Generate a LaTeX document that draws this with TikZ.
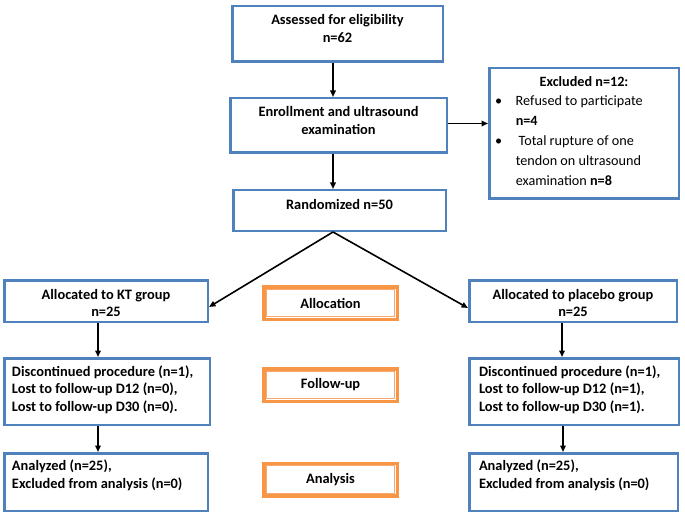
\documentclass[tikz,border=0pt]{standalone}
\usepackage{fontspec}
\setmainfont{Carlito}
\usetikzlibrary{arrows.meta}
\definecolor{boxblue}{HTML}{4F81BD}
\definecolor{boxorange}{HTML}{F79646}
\definecolor{lightorange}{HTML}{F9A96E}
\newcommand\bxt[4]{\parbox[c][#2pt][t]{#1pt}{\vspace*{#3pt}#4}}
\tikzset{
  bluebox/.style={draw=boxblue, line width=2.5pt, inner sep=0pt, fill=white,
    font=\fontsize{14.4}{17.5}\selectfont\bfseries},
  orangebox/.style={draw=boxorange, line width=3.5pt, inner sep=0pt,
    minimum width=133.5pt, minimum height=32.5pt,
    font=\fontsize{14.4}{17.5}\selectfont\bfseries},
  arr/.style={line width=1.6pt, -{Triangle[length=6.5pt,width=5.5pt]}}
}
\begin{document}
\begin{tikzpicture}[x=1pt,y=-1pt]
\useasboundingbox (0,0) rectangle (685,513);
% top column
\node[bluebox] (assess) at (337.5,34) {\bxt{210.5}{55.5}{6.5}{\centering\strut Assessed for eligibility\\ n=62}};
\node[bluebox] (enroll) at (338.5,125.5) {\bxt{216.5}{54.5}{6.5}{\centering\strut Enrollment and ultrasound\\ examination}};
\node[bluebox] (rand) at (339.5,210.5) {\bxt{212.5}{40.5}{7.5}{\centering\strut Randomized n=50}};
\node[bluebox] (excl) at (584,133.5) {\bxt{189.5}{130.5}{3.9}{\fontsize{14.2}{19.8}\selectfont\mdseries\centering\strut\textbf{Excluded n=12:}\par
  \raggedright\leftskip=26.5pt\relax
  \leavevmode\llap{\textbullet\hspace{13.5pt}}Refused to participate\\ \textbf{n=4}\par
  \leavevmode\llap{\textbullet\hspace{13.5pt}}\hspace{3pt}Total rupture of one\\ tendon on ultrasound\\ examination \textbf{n=8}\par}};
% groups
\node[bluebox] (kt) at (106,301) {\bxt{203.5}{41.5}{6.8}{\centering\strut Allocated to KT group\\ n=25}};
\node[bluebox] (pl) at (573,301) {\bxt{207.5}{41.5}{6.8}{\centering\strut Allocated to placebo group\\ n=25}};
\node[bluebox] (fu1) at (107,391.5) {\bxt{205.5}{66.5}{5.5}{\raggedright\leftskip=7.75pt\relax\strut Discontinued procedure (n=1),\\ Lost to follow-up D12 (n=0),\\ Lost to follow-up D30 (n=0).}};
\node[bluebox] (fu2) at (574,391.5) {\bxt{209.5}{66.5}{5.5}{\raggedright\leftskip=9.75pt\relax\strut Discontinued procedure (n=1),\\ Lost to follow-up D12 (n=1),\\ Lost to follow-up D30 (n=1).}};
\node[bluebox] (an1) at (106,482) {\bxt{203.5}{57.5}{4.5}{\fontsize{14.4}{18.2}\selectfont\raggedright\leftskip=7.75pt\relax\strut Analyzed (n=25),\\ Excluded from analysis (n=0)}};
\node[bluebox] (an2) at (573.5,482) {\bxt{208.5}{57.5}{4.5}{\fontsize{14.4}{18.2}\selectfont\raggedright\leftskip=9.75pt\relax\strut Analyzed (n=25),\\ Excluded from analysis (n=0)}};
% stage labels
\node[orangebox] (alloc) at (330.5,303) {Allocation};
\node[orangebox] (fuo) at (330.5,385) {Follow-up};
\node[orangebox] (ano) at (330.5,479.5) {Analysis};
\foreach \n in {alloc,fuo,ano}
  \draw[lightorange, line width=1.2pt] ([shift={(4.2pt,4.2pt)}]\n.south west) rectangle ([shift={(-4.2pt,-4.2pt)}]\n.north east);
% connectors
\draw[arr] ([xshift=-4.5pt]assess.south) -- ([xshift=-4.5pt]assess.south |- enroll.north);
\draw[arr] ([xshift=-5.5pt]enroll.south) -- ([xshift=-5.5pt]enroll.south |- rand.north);
\draw[arr] ([yshift=2pt]enroll.east) -- ([yshift=2pt]enroll.east -| excl.west);
\draw[arr] ([xshift=-6.5pt]rand.south) -- ([yshift=-6pt]kt.east);
\draw[arr] ([xshift=-6.5pt]rand.south) -- ([yshift=-7pt]pl.west);
\draw[arr] ([xshift=-8pt]kt.south) -- ([xshift=-8pt]kt.south |- fu1.north);
\draw[arr] ([xshift=-11pt]pl.south) -- ([xshift=-11pt]pl.south |- fu2.north);
\draw[arr] ([xshift=-9pt]fu1.south) -- ([xshift=-9pt]fu1.south |- an1.north);
\draw[arr] ([xshift=-11pt]fu2.south) -- ([xshift=-11pt]fu2.south |- an2.north);
\end{tikzpicture}
\end{document}
